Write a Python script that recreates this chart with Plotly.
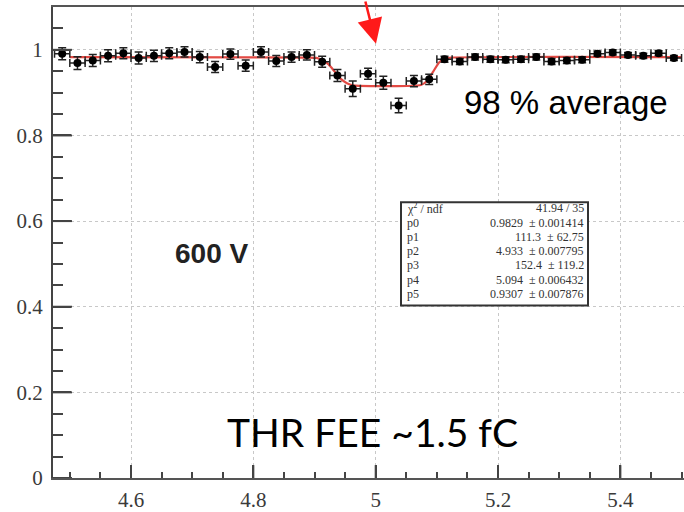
import plotly.graph_objects as go

# ---- data ----
x_centers = [4.4875, 4.5125, 4.5375, 4.5625, 4.5875, 4.6125, 4.6375, 4.6625, 4.6875, 4.7125,
             4.7375, 4.7625, 4.7875, 4.8125, 4.8375, 4.8625, 4.8875, 4.9125, 4.9375, 4.9625,
             4.9875, 5.0125, 5.0375, 5.0625, 5.0875, 5.1125, 5.1375, 5.1625, 5.1875, 5.2125,
             5.2375, 5.2625, 5.2875, 5.3125, 5.3375, 5.3625, 5.3875, 5.4125, 5.4375, 5.4625, 5.4875]
eff = [0.991, 0.969, 0.975, 0.986, 0.992, 0.981, 0.986, 0.992, 0.995, 0.983,
       0.960, 0.990, 0.963, 0.995, 0.974, 0.983, 0.988, 0.972, 0.940, 0.909,
       0.944, 0.923, 0.870, 0.927, 0.931, 0.978, 0.973, 0.983, 0.978, 0.977,
       0.978, 0.983, 0.973, 0.975, 0.977, 0.991, 0.994, 0.988, 0.986, 0.992, 0.981]
eff_err = [0.014, 0.015, 0.014, 0.014, 0.013, 0.014, 0.013, 0.013, 0.012, 0.013,
           0.013, 0.012, 0.013, 0.012, 0.013, 0.012, 0.012, 0.013, 0.014, 0.018,
           0.013, 0.015, 0.017, 0.013, 0.012, 0.007, 0.007, 0.007, 0.007, 0.007,
           0.007, 0.007, 0.007, 0.007, 0.007, 0.006, 0.006, 0.006, 0.006, 0.006, 0.006]
bin_half = [0.0125] * len(x_centers)

fit_x = [4.50, 4.893, 4.903, 4.913, 4.923, 4.933, 4.943, 4.953, 4.963, 4.973,
         5.074, 5.084, 5.094, 5.104, 5.114, 5.124, 5.50]
fit_y = [0.983, 0.982, 0.981, 0.976, 0.966, 0.949, 0.932, 0.922, 0.917, 0.916,
         0.918, 0.927, 0.949, 0.971, 0.980, 0.982, 0.983]

x_ticks = [4.6, 4.8, 5.0, 5.2, 5.4]
x_tick_text = ["4.6", "4.8", "5", "5.2", "5.4"]
y_ticks = [0, 0.2, 0.4, 0.6, 0.8, 1.0]
y_tick_text = ["0", "0.2", "0.4", "0.6", "0.8", "1"]

stat_labels = ["\u03c7<sup>2</sup> / ndf", "p0", "p1", "p2", "p3", "p4", "p5"]
stat_values = ["41.94 / 35", "0.9829  \u00b1 0.001414", "111.3  \u00b1 62.75",
               "4.933  \u00b1 0.007795", "152.4  \u00b1 119.2", "5.094  \u00b1 0.006432",
               "0.9307  \u00b1 0.007876"]

# ---- geometry ----
W, H = 684, 512
L, T, B = 53, 7, 30
X0, X1 = 4.4725, 5.504
Y0, Y1 = 0.0, 1.1
pw, ph = W - L, H - T - B


def px2x(px):
    return X0 + (px - L) / pw * (X1 - X0)


def py2y(py):
    return Y0 + (H - B - py) / ph * (Y1 - Y0)


SERIF = "Liberation Serif, Times New Roman, Times, serif"
AX = "#444"

fig = go.Figure()

fig.add_trace(go.Scatter(
    x=fit_x, y=fit_y, mode="lines",
    line=dict(color="#e34a44", width=2.2, shape="spline", smoothing=0.6),
    hoverinfo="skip", showlegend=False))

fig.add_trace(go.Scatter(
    x=x_centers, y=eff, mode="markers",
    marker=dict(color="black", size=8),
    error_y=dict(type="data", array=eff_err, color="#222", thickness=1.5, width=4),
    error_x=dict(type="data", array=bin_half, color="#222", thickness=1.5, width=4),
    showlegend=False))

# longer major ticks (ROOT style, pointing inside)
for v in y_ticks:
    fig.add_shape(type="line", xref="x", yref="y", x0=X0, x1=px2x(L + 19), y0=v, y1=v,
                  line=dict(color=AX, width=2), layer="above")
for v in x_ticks:
    fig.add_shape(type="line", xref="x", yref="y", x0=v, x1=v, y0=Y0, y1=py2y(H - B - 13),
                  line=dict(color=AX, width=2), layer="above")

# stats box
bx0, by0, bx1, by1 = 401, 204, 588, 308
fig.add_shape(type="rect", xref="x", yref="y",
              x0=px2x(bx0), x1=px2x(bx1), y0=py2y(by1), y1=py2y(by0),
              line=dict(color="#333", width=2), fillcolor="white", layer="above")
row_y0, row_dy = 210, 14.4
for i, (lab, val) in enumerate(zip(stat_labels, stat_values)):
    yy = py2y(row_y0 + i * row_dy)
    fig.add_annotation(x=px2x(405), y=yy, xref="x", yref="y", text=lab,
                       showarrow=False, xanchor="left", yanchor="middle",
                       font=dict(family=SERIF, size=12, color="#333"))
    fig.add_annotation(x=px2x(586), y=yy, xref="x", yref="y", text=val,
                       showarrow=False, xanchor="right", yanchor="middle",
                       font=dict(family=SERIF, size=12, color="#333"))

# text labels
fig.add_annotation(x=px2x(566), y=py2y(103), xref="x", yref="y", text="98 % average",
                   showarrow=False, xanchor="center", yanchor="middle",
                   font=dict(family="Liberation Sans, Arial", size=33, color="black"))
fig.add_annotation(x=px2x(211), y=py2y(256), xref="x", yref="y", text="<b>600 V</b>",
                   showarrow=False, xanchor="center", yanchor="middle",
                   font=dict(family="Liberation Sans, Arial", size=28, color="#222"))
fig.add_annotation(x=px2x(372), y=py2y(436), xref="x", yref="y", text="THR FEE ~1.5 fC",
                   showarrow=False, xanchor="center", yanchor="middle",
                   font=dict(family="Lato", size=39, color="black"))

# red arrow
fig.add_annotation(x=px2x(376), y=py2y(44), xref="x", yref="y", text="",
                   showarrow=True, axref="pixel", ayref="pixel", ax=-11, ay=-50,
                   arrowhead=2, arrowsize=2.0, arrowwidth=2.5, arrowcolor="#ff1a1a")

tick_font = dict(family="Liberation Serif", size=21, color="#3a3a3a")
fig.update_xaxes(range=[X0, X1], tickmode="array", tickvals=x_ticks, ticktext=x_tick_text,
                 ticks="inside", ticklen=13, tickwidth=2, tickcolor=AX,
                 showline=True, linecolor="#555", linewidth=2, mirror=True,
                 showgrid=True, gridcolor="#c8c8c8", gridwidth=1, griddash="dot",
                 zeroline=False, tickfont=tick_font, ticklabelstandoff=2,
                 minor=dict(tickmode="linear", tick0=4.5, dtick=0.05, ticks="inside", ticklen=6,
                            tickwidth=2, tickcolor=AX, showgrid=False))
fig.update_yaxes(range=[Y0, Y1], tickmode="array", tickvals=y_ticks, ticktext=y_tick_text,
                 ticks="inside", ticklen=18, tickwidth=2, tickcolor=AX,
                 showline=True, linecolor=AX, linewidth=2, mirror=False,
                 showgrid=True, gridcolor="#c8c8c8", gridwidth=1, griddash="dot",
                 zeroline=False, tickfont=tick_font, ticklabelstandoff=4,
                 minor=dict(tickmode="linear", tick0=0, dtick=0.05, ticks="inside", ticklen=10,
                            tickwidth=2, tickcolor=AX, showgrid=False))

fig.update_layout(width=W, height=H, margin=dict(l=L, r=0, t=T, b=B),
                  font=dict(family=SERIF, size=21, color="#444"),
                  paper_bgcolor="white", plot_bgcolor="white", showlegend=False)

fig.write_html("out.html")
